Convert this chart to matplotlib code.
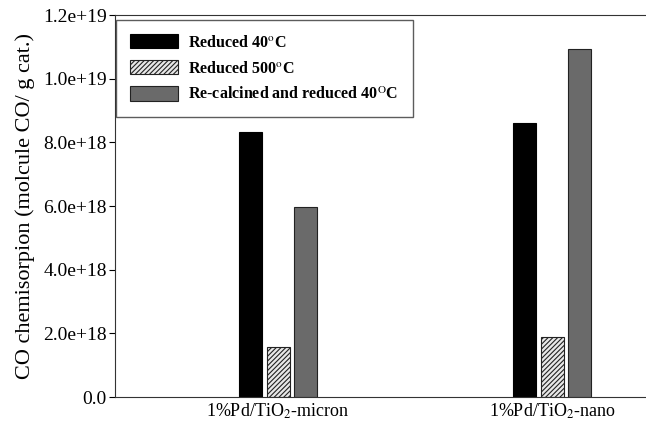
import matplotlib.pyplot as plt
import numpy as np

categories = ['1%Pd/TiO$_2$-micron', '1%Pd/TiO$_2$-nano']
series_names = ['Reduced 40$^{\\mathrm{o}}$C',
                'Reduced 500$^{\\mathrm{o}}$C',
                'Re-calcined and reduced 40$^{\\mathrm{O}}$C']
reduced_40 = [8.32e18, 8.6e18]
reduced_500 = [1.57e18, 1.89e18]
recalcined_40 = [5.96e18, 1.093e19]
yticks = [0, 2e18, 4e18, 6e18, 8e18, 1e19, 1.2e19]
ytick_labels = ['0.0', '2.0e+18', '4.0e+18', '6.0e+18', '8.0e+18', '1.0e+19', '1.2e+19']

plt.rcParams['font.family'] = ['Liberation Serif', 'DejaVu Serif']
plt.rcParams['mathtext.fontset'] = 'stix'
plt.rcParams['hatch.linewidth'] = 0.8

fig = plt.figure(figsize=(6.46, 4.22), dpi=100)
ax = fig.add_axes([0.178, 0.059, 0.822, 0.905])

x = np.arange(len(categories))
w = 0.084
off = 0.1
ax.bar(x - off, reduced_40, w, color='black', edgecolor='black', linewidth=0.8,
       label=series_names[0])
ax.bar(x, reduced_500, w, color='#e8e8e8', edgecolor='#222222', hatch='///////',
       linewidth=0.8, label=series_names[1])
ax.bar(x + off, recalcined_40, w, color='#6a6a6a', edgecolor='#222222', linewidth=0.8,
       label=series_names[2])

ax.set_xlim(-0.595, 1.343)
ax.set_ylim(0, 1.2e19)
ax.set_xticks(x)
ax.set_xticklabels(categories, fontsize=13)
ax.set_yticks(yticks)
ax.set_yticklabels(ytick_labels, fontsize=14)
ax.tick_params(axis='x', length=0, pad=3)
ax.tick_params(axis='y', direction='out', length=4, width=0.8, pad=2)
ax.spines['right'].set_visible(False)
for s in ['left', 'top', 'bottom']:
    ax.spines[s].set_color('#333333')
ax.set_ylabel('CO chemisorpion (molcule CO/ g cat.)', fontsize=16, labelpad=6)

leg = ax.legend(loc='upper left', bbox_to_anchor=(-0.004, 0.997), frameon=True,
                fancybox=False, edgecolor='#333333',
                prop={'weight': 'bold', 'size': 11.5}, handlelength=3.0,
                handleheight=1.0, borderpad=0.9, labelspacing=0.6,
                handletextpad=0.6, borderaxespad=0.2)
leg.get_frame().set_linewidth(1.0)

fig.savefig('out.png', dpi=100)
